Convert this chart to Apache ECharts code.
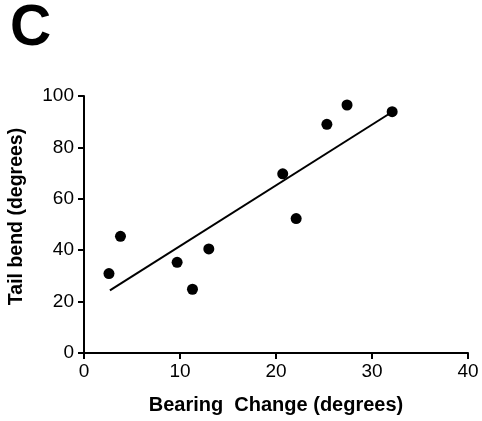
<!DOCTYPE html>
<html>
<head>
<meta charset="utf-8">
<script src="https://cdn.jsdelivr.net/npm/echarts@6/dist/echarts.min.js"></script>
<style>html,body{margin:0;padding:0;background:#fff;}#c{width:482px;height:421px;}</style>
</head>
<body>
<div id="c"></div>
<script>
var bearingChange = [2.6, 3.8, 9.7, 11.3, 13.0, 20.7, 22.1, 25.3, 27.4, 32.1];
var tailBend = [30.9, 45.4, 35.3, 24.8, 40.5, 69.7, 52.3, 89.0, 96.5, 93.9];
var fitX = [2.7, 31.8];
var fitY = [24.4, 93.1];
var panelLabel = 'C';
var xName = 'Bearing  Change (degrees)';
var yName = 'Tail bend (degrees)';

var points = bearingChange.map(function (x, i) { return [x, tailBend[i]]; });
var fitLine = fitX.map(function (x, i) { return [x, fitY[i]]; });
var font = 'Liberation Sans, Arial, Helvetica, sans-serif';

var chart = echarts.init(document.getElementById('c'), null, {renderer: 'canvas'});
chart.setOption({
  animation: false,
  backgroundColor: '#fff',
  title: {
    text: panelLabel, left: 5, top: -4,
    textStyle: {fontFamily: font, fontSize: 57, fontWeight: 'bold', color: '#000'}
  },
  grid: {left: 84, right: 14, top: 96, bottom: 68, containLabel: false, outerBoundsMode: 'none'},
  xAxis: {
    type: 'value', min: 0, max: 40, interval: 10,
    name: xName, nameLocation: 'middle', nameGap: 42,
    nameTextStyle: {fontFamily: font, fontSize: 20, fontWeight: 'bold', color: '#000'},
    axisLine: {show: true, onZero: false, lineStyle: {color: '#000', width: 2}},
    axisTick: {show: true, length: 6, lineStyle: {color: '#000', width: 2}},
    axisLabel: {fontFamily: font, fontSize: 19, color: '#000', margin: 9},
    splitLine: {show: false}
  },
  yAxis: {
    type: 'value', min: 0, max: 100, interval: 20,
    name: yName, nameLocation: 'middle', nameGap: 57,
    nameTextStyle: {fontFamily: font, fontSize: 19.5, fontWeight: 'bold', color: '#000', padding: [0, 0, 0, 16]},
    axisLine: {show: true, onZero: false, lineStyle: {color: '#000', width: 2}},
    axisTick: {show: true, length: 6, lineStyle: {color: '#000', width: 2}},
    axisLabel: {fontFamily: font, fontSize: 19, color: '#000', margin: 10},
    splitLine: {show: false}
  },
  series: [
    {
      type: 'line', data: fitLine, symbol: 'none',
      lineStyle: {color: '#000', width: 2}, z: 2
    },
    {
      type: 'scatter', data: points, symbol: 'circle', symbolSize: 11,
      itemStyle: {color: '#000', opacity: 1}, z: 3
    }
  ]
});
</script>
</body>
</html>
